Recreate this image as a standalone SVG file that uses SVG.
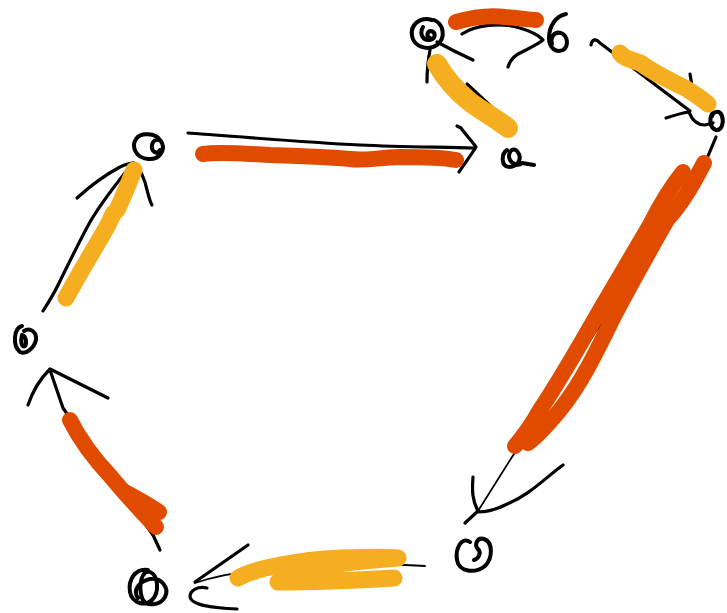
<svg xmlns="http://www.w3.org/2000/svg" width="727" height="613" viewBox="0 0 727 613">
  <style>
    .ink { fill: none; stroke: #000; stroke-width: 3.2; stroke-linecap: round; stroke-linejoin: round; }
    .thin { stroke-width: 1.8; }
    .knot { fill: none; stroke: #000; stroke-width: 4; stroke-linecap: round; stroke-linejoin: round; }
    .hl { fill: none; stroke-linecap: round; stroke-linejoin: round; }
    .orange { stroke: #E04B00; stroke-width: 16; }
    .yellow { stroke: #F5AE20; stroke-width: 17; }
    .wide { stroke-width: 20; }
  </style>
  <rect width="727" height="613" fill="#fff"/>

  <!-- arrows drawn in black ink -->
  <g id="connectors">
    <!-- A to D -->
    <path class="ink" d="M188,133 C230,136 300,142 360,145 C400,147 440,147 474,148"/>
    <path class="ink" d="M457,126 L461,128 C466,135 471,140 476,147 C471,155 465,163 459,172"/>
    <!-- B to C, curved -->
    <path class="ink" d="M462,34 C475,25 500,22 520,28 C530,31 537,34 542,39"/>
    <path class="ink" d="M508,67 C510,60 515,55 522,52 C532,47 538,44 543,40"/>
    <!-- B to D -->
    <path class="ink" d="M437,42 C448,48 462,55 473,60"/>
    <path class="ink" d="M430,50 C428,60 427,72 427,82"/>
    <path class="ink" d="M467,84 L497,112"/>
    <!-- C to E -->
    <path class="ink" d="M591,45 C592,39 596,38 600,43 L690,111"/>
    <path class="ink" d="M690,74 L692,86"/>
    <path class="ink" d="M666,118 C675,115 682,113 689,112 C692,120 697,125 705,125 L713,123"/>
    <!-- E to F -->
    <path class="ink" d="M716,137 L708,156"/>
    <path class="ink thin" d="M708,156 L627,290 L595,333 L512,457 L478,511"/>
    <path class="ink" d="M473,477 C472,490 472,500 478,511 L465,523"/>
    <path class="ink" d="M563,465 C545,478 530,495 505,505 C495,510 485,512 478,512"/>
    <!-- F to G -->
    <path class="ink thin" d="M425,566 C380,563 330,565 260,570 C230,573 210,578 195,583"/>
    <path class="ink" d="M248,545 L195,582"/>
    <path class="ink" d="M207,588 C198,586 190,590 190,597 C192,606 215,608 237,609"/>
    <!-- G to H -->
    <path class="ink" d="M160,550 L153,535"/>
    <path class="ink" d="M153,535 L63,408 L50,370"/>
    <path class="ink" d="M28,405 C33,390 42,377 50,369 C68,378 88,388 108,398"/>
    <!-- H to A -->
    <path class="ink" d="M43,311 C50,300 56,290 60,281 C68,265 80,240 90,222 C97,210 115,185 133,163"/>
    <path class="ink" d="M77,198 C88,188 105,175 120,167 C126,164 130,163 134,163 C140,168 145,180 147,190 C149,197 150,202 152,205"/>
  </g>

  <!-- highlighter strokes laid over the arrows -->
  <g id="highlights">
    <path class="hl orange" d="M456,22 C470,18 490,15 505,17 C520,18 530,20 536,20"/>
    <path class="hl orange" d="M203,154 C215,152 240,153 270,155 C300,156 330,157 350,159 C365,161 375,158 400,157 C425,157 445,158 456,160"/>
    <path class="hl orange" d="M683,172 C670,188 660,205 650,225 C635,250 615,285 600,310 C580,345 560,380 540,410 C530,428 522,438 515,446"/>
    <path class="hl orange" d="M704,163 C695,180 685,200 667,220 C650,250 630,285 612,320 C595,355 580,385 560,410 C545,428 535,438 528,443"/>
    <path class="hl orange" d="M70,420 C80,440 95,460 112,478 C125,494 140,510 156,527"/>
    <path class="hl orange" d="M125,492 C140,500 152,507 159,512"/>
    <path class="hl yellow wide" d="M437,64 C445,78 455,90 470,102 C485,113 498,120 508,128"/>
    <path class="hl yellow" d="M620,53 C625,60 635,60 642,64 C652,72 665,78 685,88 C695,94 702,99 708,104"/>
    <path class="hl yellow" d="M66,298 C80,272 95,248 108,225 L113,214 L117,210 C122,200 128,185 134,170"/>
    <path class="hl yellow" d="M238,578 C255,568 300,560 340,558 C370,557 390,557 398,558 C370,560 340,563 320,567 C300,572 285,578 278,582 C310,582 360,580 394,578"/>
  </g>

  <!-- nodes: small scribbled loops -->
  <g id="node-a">
    <path class="knot" d="M160,140 C156,133 140,132 136,139 C131,147 136,158 148,159 C160,160 165,150 162,143 C160,138 153,139 152,145 C151,152 157,155 160,150"/>
  </g>
  <g id="node-b">
    <path class="knot" d="M432,20 C420,16 410,25 412,36 C414,47 428,51 437,45 C446,38 444,24 434,20"/>
    <path class="knot" d="M423,27 C419,34 423,41 430,40 C436,39 436,32 431,31 C427,31 426,37 430,38"/>
  </g>
  <g id="node-c">
    <path class="knot" d="M566,14 C556,16 549,26 549,38 C549,48 556,53 563,50 C569,46 568,36 561,33 C554,31 550,38 552,44"/>
  </g>
  <g id="node-d">
    <path class="knot" d="M507,150 C501,154 501,167 509,167 C518,167 523,158 517,151 C512,146 507,154 510,160 C513,165 519,166 522,163 L534,165"/>
  </g>
  <g id="node-e">
    <path class="knot" d="M712,114 C709,120 710,128 716,130 C722,131 724,122 722,116 C720,110 713,111 712,116"/>
  </g>
  <g id="node-f">
    <path class="knot" d="M470,542 C462,536 455,548 457,560 C459,572 475,574 485,566 C493,558 493,542 484,539 C477,537 474,545 478,549 C482,553 478,559 474,560"/>
  </g>
  <g id="node-g">
    <path class="knot" d="M148,570 C135,568 128,580 130,592 C132,603 145,607 152,600 C160,592 158,575 150,572 C142,569 138,585 142,598 C145,607 160,606 165,597 C170,587 160,577 150,579 C140,581 132,590 138,598"/>
  </g>
  <g id="node-h">
    <path class="knot" d="M22,326 C14,328 12,345 20,352 C26,355 34,348 36,340 C37,332 30,327 24,331"/>
    <path class="knot" d="M22,335 C20,342 22,348 25,346 C27,343 26,336 22,335"/>
  </g>
</svg>
